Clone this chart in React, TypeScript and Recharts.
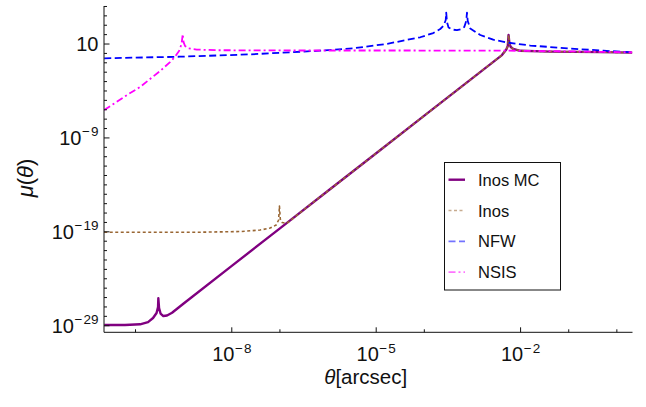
import { LineChart, Line, XAxis, YAxis, Legend } from "recharts";

// Values. Both axes are logarithmic, so every
// number below is a log10: theta in arcsec, mu dimensionless.
const inosMcTheta = [
  -10.65, -10.22, -9.906, -9.74, -9.636, -9.563, -9.532, -9.526, -9.511, -9.48, -9.422, -9.345,
  -9.241, -9.0, -8.0, -7.0, -6.0, -5.0, -4.0, -3.0, -2.6, -2.387, -2.297, -2.266, -2.25, -2.231,
  -2.204, -2.152, -2.006, -1.382, -0.343, 0.32,
];
const inosMcMu = [
  -28.93, -28.93, -28.85, -28.61, -28.18, -27.65, -27.01, -26.08, -27.12, -27.7, -27.97, -27.91,
  -27.62, -26.63, -22.63, -18.63, -14.63, -10.63, -6.63, -2.63, -1.03, -0.18, 0.41, 0.79, 1.96, 1.0,
  0.68, 0.47, 0.28, 0.19, 0.14, 0.08,
];

const inosTheta = [
  -10.65, -9.699, -8.659, -7.827, -7.412, -7.204, -7.079, -7.027, -7.01, -6.992, -6.954, -6.857,
  -6.5, -6.0, -5.0, -4.0, -3.0, -2.6, -2.387, -2.297, -2.266, -2.25, -2.231, -2.204, -2.152, -2.006,
  -1.382, -0.343, 0.32,
];
const inosMu = [
  -19.05, -19.05, -19.04, -18.97, -18.81, -18.6, -18.28, -17.74, -16.25, -17.64, -18.01, -18.1,
  -16.63, -14.63, -10.63, -6.63, -2.63, -1.03, -0.18, 0.41, 0.79, 1.96, 1.0, 0.68, 0.47, 0.28,
  0.19, 0.14, 0.08,
];

const nfwTheta = [
  -10.65, -9.074, -7.619, -6.164, -5.478, -4.771, -4.085, -3.815, -3.669, -3.597, -3.555, -3.545,
  -3.53, -3.497, -3.42, -3.322, -3.233, -3.17, -3.129, -3.114, -3.098, -3.046, -2.838, -2.568,
  -2.256, -1.798, -0.967, -0.281, 0.32,
];
const nfwMu = [
  -0.52, -0.35, -0.1, 0.29, 0.54, 1.02, 1.72, 2.17, 2.6, 2.97, 3.56, 4.35, 3.34, 2.76, 2.54, 2.47,
  2.58, 2.81, 3.45, 4.35, 3.45, 2.65, 1.96, 1.46, 1.14, 0.84, 0.52, 0.29, 0.12,
];

const nsisTheta = [
  -10.65, -10.427, -10.177, -9.906, -9.699, -9.491, -9.387, -9.283, -9.179, -9.096, -9.044, -9.019,
  -9.002, -8.971, -8.902, -8.728, -8.306, -6.58, -4.502, -2.423, -1.175, -0.343, 0.32,
];
const nsisMu = [
  -6.03, -5.28, -4.43, -3.58, -2.73, -1.88, -1.4, -0.92, -0.35, 0.25, 1.0, 2.06, 1.21, 0.79, 0.54,
  0.41, 0.34, 0.31, 0.31, 0.3, 0.23, 0.17, 0.12,
];

const xMajorTicks = [-8, -5, -2];
const xMinorTicks = [-10, -7, -4, -1, 0];
const yMajorTicks = [1, -9, -19, -29];
const yMinorTicks = Array.from({ length: 35 }, (_, i) => i - 29).filter((v) => !yMajorTicks.includes(v));

const xTicks = [...xMajorTicks, ...xMinorTicks].sort((a, b) => a - b);
const yTicks = [...yMajorTicks, ...yMinorTicks].sort((a, b) => a - b);

const X_DOMAIN: [number, number] = [-10.655, 0.325];
const Y_DOMAIN: [number, number] = [-29.7, 5.05];

const FONT = "'Liberation Sans', Arial, Helvetica, sans-serif";
const INK = "#111";

const series = [
  { name: "Inos MC", theta: inosMcTheta, mu: inosMcMu, color: "#800080", width: 2.4, dash: undefined, legendOpacity: 1 },
  { name: "Inos", theta: inosTheta, mu: inosMu, color: "#996633", width: 1.6, dash: "3 2.5", legendOpacity: 0.55 },
  { name: "NFW", theta: nfwTheta, mu: nfwMu, color: "#0000ff", width: 1.8, dash: "7 3.5", legendOpacity: 0.55 },
  { name: "NSIS", theta: nsisTheta, mu: nsisMu, color: "#ff00ff", width: 1.8, dash: "7 3 2 3", legendOpacity: 0.55 },
];

function toRows(theta: number[], mu: number[]) {
  return theta.map((x, i) => ({ x, y: mu[i] }));
}

function PowerText({ x, y, exp, anchor }: { x: number; y: number; exp: number; anchor: "middle" | "end" }) {
  return (
    <text x={x} y={y} textAnchor={anchor} fontFamily={FONT} fontSize={20} fill={INK}>
      10
      {exp !== 1 && (
        <tspan fontSize={13.5} dy={-8.5} dx={0.5}>
          {exp < 0 ? `\u2212\u200a${-exp}` : exp}
        </tspan>
      )}
    </text>
  );
}

function BottomTick({ x, y, payload }: any) {
  const major = xMajorTicks.includes(payload.value);
  return (
    <g>
      <line x1={x} x2={x} y1={y} y2={y - (major ? 5 : 3)} stroke={INK} />
      {major && <PowerText x={x} y={y + 28.8} exp={payload.value} anchor="middle" />}
    </g>
  );
}

function TopTick({ x, y, payload }: any) {
  const major = xMajorTicks.includes(payload.value);
  return <line x1={x} x2={x} y1={y} y2={y + (major ? 5 : 3)} stroke={INK} />;
}

function LeftTick({ x, y, payload }: any) {
  const major = yMajorTicks.includes(payload.value);
  return (
    <g>
      <line x1={x} x2={x + (major ? 5.5 : 3)} y1={y} y2={y} stroke={INK} />
      {major && <PowerText x={x - 5.5} y={y + 7} exp={payload.value} anchor="end" />}
    </g>
  );
}

function RightTick({ x, y, payload }: any) {
  const major = yMajorTicks.includes(payload.value);
  return <line x1={x} x2={x - (major ? 5.5 : 3)} y1={y} y2={y} stroke={INK} />;
}

function LegendBox() {
  return (
    <svg width={117} height={129} style={{ display: "block" }}>
      <rect x={0.5} y={0.5} width={116} height={127.5} fill="#fff" stroke={INK} />
      {series.map((s, i) => {
        const cy = 17.7 + i * 30.8;
        return (
          <g key={s.name}>
            <line
              x1={4.5}
              x2={21}
              y1={cy}
              y2={cy}
              stroke={s.color}
              strokeWidth={s.width}
              strokeDasharray={s.dash}
              strokeOpacity={s.legendOpacity}
            />
            <text x={34} y={cy + 6} fontFamily={FONT} fontSize={16.5} fill={INK}>
              {s.name}
            </text>
          </g>
        );
      })}
    </svg>
  );
}

export default function App() {
  return (
    <div style={{ position: "absolute", left: 0, top: 0, background: "#fff" }}>
      <LineChart width={646} height={407} margin={{ top: 6, right: 13.5, bottom: 0, left: 0 }}>
        <XAxis
          dataKey="x"
          type="number"
          domain={X_DOMAIN}
          allowDataOverflow
          ticks={xTicks}
          interval={0}
          tickSize={0}
          tickMargin={0}
          tickLine={false}
          tick={<BottomTick />}
          axisLine={{ stroke: INK }}
          height={74.7}
          label={{
            content: ({ viewBox }: any) => (
              <text
                x={viewBox.x + viewBox.width / 2 - 2.5}
                y={viewBox.y + 51.7}
                textAnchor="middle"
                fontFamily={FONT}
                fontSize={20.5}
                fill={INK}
              >
                <tspan fontStyle="italic">θ</tspan>[arcsec]
              </text>
            ),
          }}
        />
        <XAxis
          xAxisId="top"
          orientation="top"
          type="number"
          domain={X_DOMAIN}
          allowDataOverflow
          ticks={xTicks}
          interval={0}
          tickSize={0}
          tickMargin={0}
          tickLine={false}
          tick={<TopTick />}
          axisLine={{ stroke: INK }}
          height={0}
        />
        <YAxis
          type="number"
          domain={Y_DOMAIN}
          allowDataOverflow
          ticks={yTicks}
          interval={0}
          tickSize={0}
          tickMargin={0}
          tickLine={false}
          tick={<LeftTick />}
          axisLine={{ stroke: INK }}
          width={104}
          label={{
            content: () => (
              <text
                x={33}
                y={178}
                transform="rotate(-90 33 178)"
                textAnchor="middle"
                fontFamily={FONT}
                fontSize={22}
                fill={INK}
              >
                <tspan fontStyle="italic">μ</tspan>(<tspan fontStyle="italic">θ</tspan>)
              </text>
            ),
          }}
        />
        <YAxis
          yAxisId="right"
          orientation="right"
          type="number"
          domain={Y_DOMAIN}
          allowDataOverflow
          ticks={yTicks}
          interval={0}
          tickSize={0}
          tickMargin={0}
          tickLine={false}
          tick={<RightTick />}
          axisLine={{ stroke: INK }}
          width={0}
        />
        <Legend
          layout="horizontal"
          verticalAlign="middle"
          content={() => <LegendBox />}
          wrapperStyle={{ left: 444, top: 162, width: 117, height: 129 }}
        />
        {series.map((s) => (
          <Line
            key={s.name}
            name={s.name}
            data={toRows(s.theta, s.mu)}
            dataKey="y"
            type="linear"
            stroke={s.color}
            strokeWidth={s.width}
            strokeDasharray={s.dash}
            strokeLinejoin="round"
            dot={false}
            activeDot={false}
            isAnimationActive={false}
          />
        ))}
      </LineChart>
    </div>
  );
}
